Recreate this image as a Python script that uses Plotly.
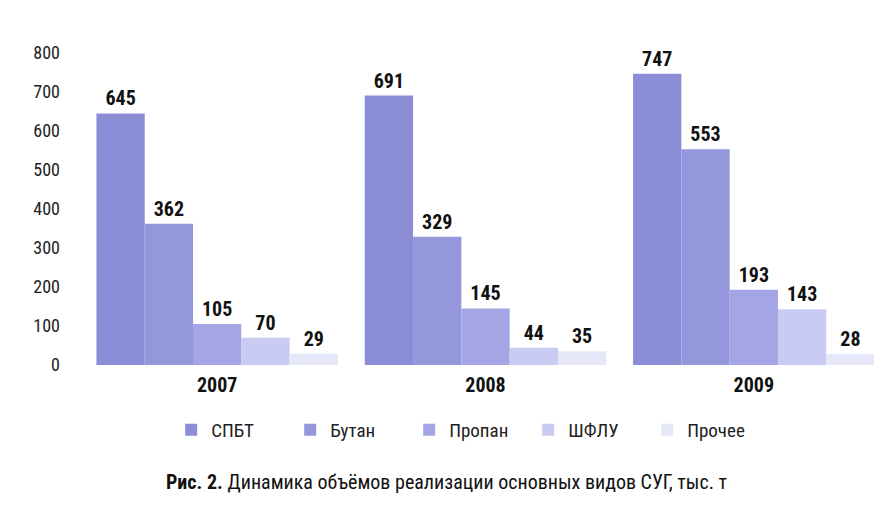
import plotly.graph_objects as go

years = ["2007", "2008", "2009"]
series_names = ["СПБТ", "Бутан", "Пропан", "ШФЛУ", "Прочее"]
spbt = [645, 691, 747]
butan = [362, 329, 553]
propan = [105, 145, 193]
shflu = [70, 44, 143]
prochee = [29, 35, 28]
y_ticks = [0, 100, 200, 300, 400, 500, 600, 700, 800]
caption_bold = "Рис. 2."
caption_text = "Динамика объёмов реализации основных видов СУГ, тыс. т"

series_values = [spbt, butan, propan, shflu, prochee]
colors = ["#8b8dd6", "#9597dc", "#a3a5e4", "#c9cbf3", "#e6e7f8"]

FONT = "Liberation Sans Narrow, Roboto Condensed, Roboto, Liberation Sans, Arial"

fig = go.Figure()
for name, vals, col in zip(series_names, series_values, colors):
    fig.add_trace(go.Bar(
        x=years, y=vals, name=name,
        marker=dict(color=col, line=dict(width=0)),
        text=[str(v) for v in vals],
        textposition="outside",
        textfont=dict(family=FONT, size=20, color="#111111"),
        texttemplate="<b>%{text}</b>",
        cliponaxis=False,
    ))

fig.update_layout(
    width=882, height=510,
    margin=dict(l=75, r=2, t=45, b=153, autoexpand=False),
    paper_bgcolor="white", plot_bgcolor="white",
    barmode="group", bargap=0.1, bargroupgap=0,
    font=dict(family=FONT, size=16, color="#222222"),
    showlegend=True,
    legend=dict(orientation="h", xref="container", yref="container",
                x=0.185, y=0.21, xanchor="left", yanchor="top",
                entrywidth=74, font=dict(family=FONT, size=19, color="#222222"),
                itemwidth=30),
    xaxis=dict(showgrid=False, showline=False, ticks="",
               tickfont=dict(family=FONT, size=20, color="#111111"),
               tickprefix="<b>", ticksuffix="</b>", ticklabelstandoff=6),
    yaxis=dict(range=[0, 800], tickvals=y_ticks, showgrid=False, showline=False,
               zeroline=False, ticks="", tickfont=dict(family=FONT, size=18, color="#222222"),
               ticklabelstandoff=22),
    annotations=[dict(
        text=f"<b>{caption_bold}</b> {caption_text}",
        xref="paper", yref="paper", x=0.1, y=-0.33, xanchor="left", yanchor="top",
        showarrow=False, font=dict(family=FONT, size=20, color="#111111"))],
)

fig.write_html("out.html")
